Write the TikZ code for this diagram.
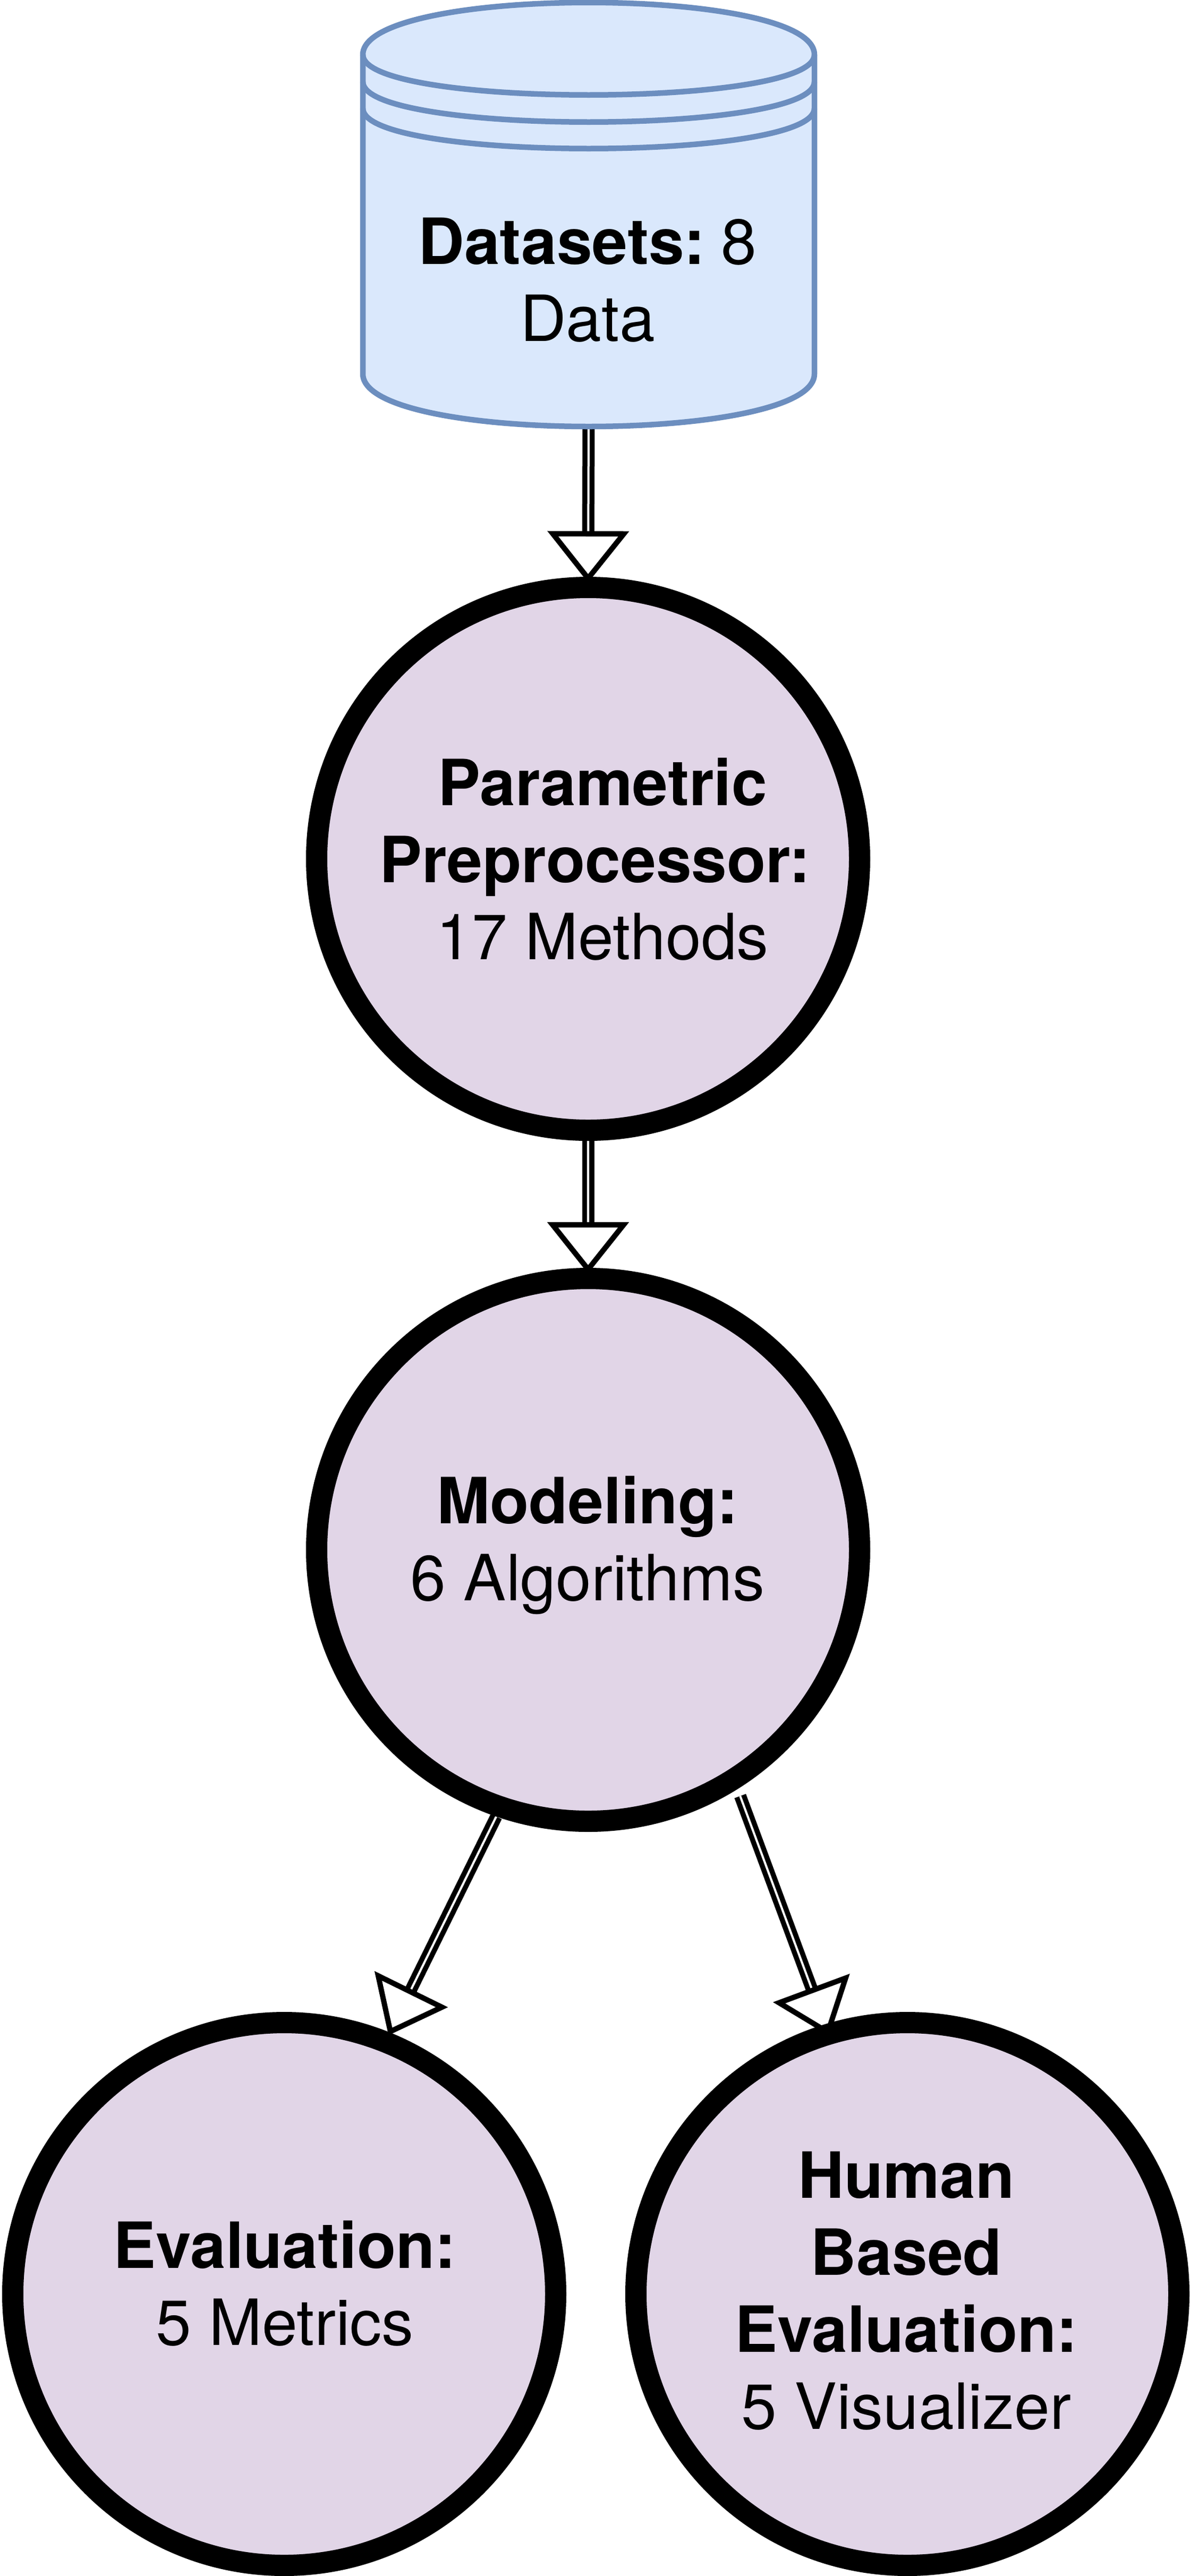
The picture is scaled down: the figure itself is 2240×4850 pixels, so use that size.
\documentclass[tikz,border=0pt]{standalone}
\usepackage{fontspec}
\setmainfont{TeX Gyre Heros}
\usetikzlibrary{arrows.meta,backgrounds}
\definecolor{cylfill}{HTML}{DAE8FC}
\definecolor{cylline}{HTML}{6C8EBF}
\definecolor{stepfill}{HTML}{E1D5E7}
\tikzset{
  x=1pt,y=-1pt,
  stagecircle/.style={circle,draw=black,fill=stepfill,line width=40pt,minimum size=1022pt,inner sep=0pt},
  cylanchor/.style={rectangle,inner sep=0pt,minimum width=850pt,minimum height=798pt},
  cylpath/.style={draw=cylline,line width=10.5pt,line join=round},
  caption/.style={align=center,inner sep=0pt,font=\fontsize{120}{145}\selectfont},
  flow/.style={draw=black,line width=9.5pt,double=white,double distance=4pt,
    -{Triangle[open,fill=white,length=97pt,width=152pt,line width=10pt]}}
}
\begin{document}
\begin{tikzpicture}
\useasboundingbox (0,0) rectangle (2240,4850);
% cylinder
\node[cylanchor] (data) at (1108,404) {};
\path[cylpath,fill=cylfill] (683,103) .. controls (683,-28) and (1533,-28) .. (1533,103)
  -- (1533,704) .. controls (1533,836) and (683,836) .. (683,704) -- cycle;
\path[cylpath] (683,103) .. controls (683,204) and (1533,204) .. (1533,103);
\path[cylpath] (683,154) .. controls (683,255) and (1533,255) .. (1533,154);
\path[cylpath] (683,204) .. controls (683,305) and (1533,305) .. (1533,204);
\node[caption] (datatext) at (1106,527) {\textbf{Datasets:}\kern30pt 8\\Data};
% circles
\node[stagecircle] (prep) at (1107,1617) {};
\node[stagecircle] (model) at (1107,2918) {};
\node[stagecircle] (evalu) at (535,4319) {};
\node[stagecircle] (human) at (1708,4319) {};
\node[caption] (preptext) at (1134,1618) {\textbf{Parametric}\\\mbox{\textbf{Preprocessor:}\kern28pt}\\17 Methods};
\node[caption] (modeltext) at (1106,2909) {\textbf{Modeling:}\\6 Algorithms};
\node[caption] (evalutext) at (536,4299) {\textbf{Evaluation:}\\5 Metrics};
\node[caption] (humantext) at (1706,4313) {\textbf{Human}\\\textbf{Based}\\\textbf{Evaluation:}\\5 Visualizer};
% connectors beneath the circles
\begin{scope}[on background layer]
\path[flow,shorten >=-11pt] (data.south) -- (prep.north);
\path[flow,shorten >=-11pt] (prep.south) -- (model.north);
\path[flow,shorten >=-6pt] (model.251.3) -- (evalu.68.4);
\path[flow,shorten <=14pt,shorten >=-24pt] (model.-58.9) -- (human.107.7);
\end{scope}
\end{tikzpicture}
\end{document}
